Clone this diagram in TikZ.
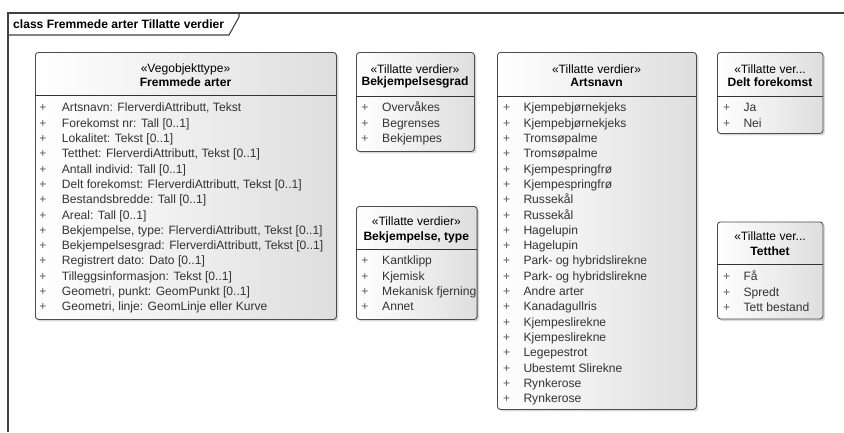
\documentclass[tikz,border=0pt]{standalone}
\usepackage{fontspec}
\setmainfont{Liberation Sans}
\usetikzlibrary{shadows}

\tikzset{
  classbox/.style={draw=black!70, line width=0.9pt, rounded corners=3pt,
    left color=white, right color=black!13, anchor=north west, inner sep=0pt,
    drop shadow={shadow xshift=2pt, shadow yshift=-2pt, opacity=0.3}},
  divider/.style={draw=black!80, line width=0.8pt},
  stereo/.style={font=\fontsize{12.1}{14}\selectfont, anchor=base, inner sep=0pt},
  classname/.style={font=\fontsize{12.1}{14}\selectfont\bfseries, anchor=base, inner sep=0pt},
  plus/.style={font=\fontsize{12.1}{14}\selectfont, text=black!65, anchor=base, inner sep=0pt},
  item/.style={font=\fontsize{12.1}{14}\selectfont, text=black!80, anchor=base west, inner sep=0pt}
}

\begin{document}
\begin{tikzpicture}[x=1pt,y=-1pt]
        \useasboundingbox (0,0) rectangle (844,432);
        % diagram frame
        \draw[black!75, line width=1.1pt] (8,432) -- (8,13) -- (844,13);
        \draw[black!75, line width=1.1pt] (8,35) -- (229,35) -- (239,17) -- (239,13);
        \node[classname, anchor=base west, name=frametitle] at (13,28) {class Fremmede arter Tillatte verdier};

        % Fremmede arter
        \node[classbox, minimum width=301, minimum height=267, name=fremmede] at (35,52) {};
        \draw[divider] (35,95) -- (336,95);
        \node[stereo, name=fremmede-st] at (185.5,72) {«Vegobjekttype»};
        \node[classname, name=fremmede-nm] at (185.5,86.3) {Fremmede arter};
        \foreach \t [count=\i] in {{Artsnavn: FlerverdiAttributt, Tekst}, {Forekomst nr: Tall [0..1]},
            {Lokalitet: Tekst [0..1]}, {Tetthet: FlerverdiAttributt, Tekst [0..1]},
            {Antall individ: Tall [0..1]}, {Delt forekomst: FlerverdiAttributt, Tekst [0..1]},
            {Bestandsbredde: Tall [0..1]}, {Areal: Tall [0..1]},
            {Bekjempelse, type: FlerverdiAttributt, Tekst [0..1]},
            {Bekjempelsesgrad: FlerverdiAttributt, Tekst [0..1]},
            {Registrert dato: Dato [0..1]}, {Tilleggsinformasjon: Tekst [0..1]},
            {Geometri, punkt: GeomPunkt [0..1]}, {Geometri, linje: GeomLinje eller Kurve}} {
          \node[plus, name=fremmede-p\i] at (43,96.6+15.3*\i) {+};
          \node[item, name=fremmede-a\i] at (61.7,96.6+15.3*\i) {\t};
        }

        % Bekjempelsesgrad
        \node[classbox, minimum width=118, minimum height=99, name=grad] at (356,52) {};
        \draw[divider] (356,96) -- (474,96);
        \node[stereo, name=grad-st] at (415,73.3) {«Tillatte verdier»};
        \node[classname, name=grad-nm] at (415,85.8) {Bekjempelsesgrad};
        \foreach \t [count=\i] in {Overvåkes, Begrenses, Bekjempes} {
          \node[plus, name=grad-p\i] at (365,96.6+15.3*\i) {+};
          \node[item, name=grad-a\i] at (382,96.6+15.3*\i) {\t};
        }

        % Bekjempelse, type
        \node[classbox, minimum width=120.7, minimum height=113, name=btype] at (356,206) {};
        \draw[divider] (356,249) -- (476.7,249);
        \node[stereo, name=btype-st] at (416.3,225.3) {«Tillatte verdier»};
        \node[classname, name=btype-nm] at (416.3,240) {Bekjempelse, type};
        \foreach \t [count=\i] in {Kantklipp, Kjemisk, Mekanisk fjerning, Annet} {
          \node[plus, name=btype-p\i] at (365,249.4+15.3*\i) {+};
          \node[item, name=btype-a\i] at (382,249.4+15.3*\i) {\t};
        }

        % Artsnavn
        \node[classbox, minimum width=199, minimum height=357, name=arts] at (497,52) {};
        \draw[divider] (497,96) -- (696,96);
        \node[stereo, name=arts-st] at (596.5,73.3) {«Tillatte verdier»};
        \node[classname, name=arts-nm] at (596.5,86.6) {Artsnavn};
        \foreach \t [count=\i] in {Kjempebjørnekjeks, Kjempebjørnekjeks, Tromsøpalme, Tromsøpalme,
            Kjempespringfrø, Kjempespringfrø, Russekål, Russekål, Hagelupin, Hagelupin,
            Park- og hybridslirekne, Park- og hybridslirekne, Andre arter, Kanadagullris,
            Kjempeslirekne, Kjempeslirekne, Legepestrot, Ubestemt Slirekne, Rynkerose, Rynkerose} {
          \node[plus, name=arts-p\i] at (506.7,96.6+15.3*\i) {+};
          \node[item, name=arts-a\i] at (523.3,96.6+15.3*\i) {\t};
        }

        % Delt forekomst
        \node[classbox, minimum width=105.5, minimum height=81, name=delt] at (717,52) {};
        \draw[divider] (717,96.5) -- (822.5,96.5);
        \node[stereo, name=delt-st] at (770,73.3) {«Tillatte ver...};
        \node[classname, name=delt-nm] at (770,86.6) {Delt forekomst};
        \foreach \t [count=\i] in {Ja, Nei} {
          \node[plus, name=delt-p\i] at (726.7,96.6+15.3*\i) {+};
          \node[item, name=delt-a\i] at (743.3,96.6+15.3*\i) {\t};
        }

        % Tetthet
        \node[classbox, minimum width=105.5, minimum height=97, name=tetthet] at (717,221.5) {};
        \draw[divider] (717,264) -- (822.5,264);
        \node[stereo, name=tetthet-st] at (770,240.3) {«Tillatte ver...};
        \node[classname, name=tetthet-nm] at (770,255) {Tetthet};
        \foreach \t [count=\i] in {Få, Spredt, Tett bestand} {
          \node[plus, name=tetthet-p\i] at (726.7,265.4+15.3*\i) {+};
          \node[item, name=tetthet-a\i] at (743.3,265.4+15.3*\i) {\t};
        }
    \end{tikzpicture}
\end{document}
